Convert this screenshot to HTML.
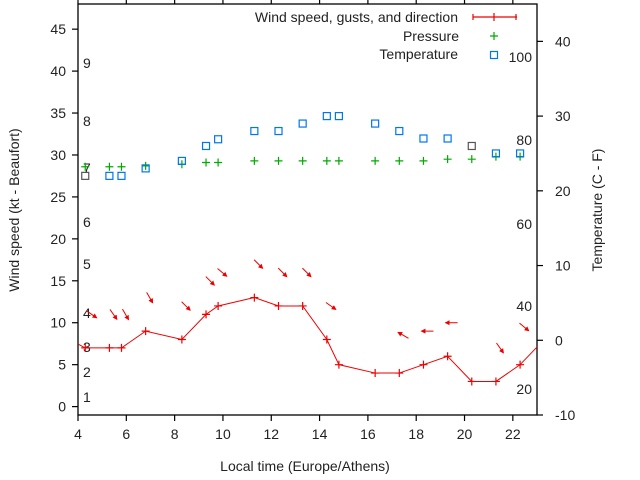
<!DOCTYPE html>
<html><head><meta charset="utf-8"><style>
body{margin:0;background:#fff}
svg{display:block;font-family:"Liberation Sans",sans-serif}
text{font-size:14px;fill:#222}
</style></head><body>
<svg id="c" width="640" height="480">
<defs><clipPath id="clip"><rect x="78" y="4" width="459" height="411"/></clipPath>
<marker id="ah" markerWidth="5" markerHeight="5" refX="4" refY="2.5" orient="auto"><path d="M0,0L5,2.5L0,5z" fill="#e00"/></marker></defs>
</svg>
<script>
const hours=[4.3,5.3,5.8,6.8,8.3,9.3,9.8,11.3,12.3,13.3,14.3,14.8,16.3,17.3,18.3,19.3,20.3,21.3,22.3];
const wind=[7,7,7,9,8,11,12,13,12,12,8,5,4,4,5,6,3,3,5];
const pressure=[28.6,28.6,28.6,28.7,28.9,29.1,29.1,29.3,29.3,29.3,29.3,29.3,29.3,29.3,29.3,29.5,29.5,29.8,29.8];
const temp=[22,22,22,23,24,26,26.9,28,28,29,30,30,29,28,27,27,26,25,25];
const arrowHours=[4.4,5.3,5.8,6.8,8.3,9.3,9.8,11.3,12.3,13.3,14.3,17.3,18.3,19.3,21.3,22.3];
const arrowKt=[11,11,11,13,12,15,16,17,16,16,12,8.5,9,10,7,9.5];
const arrowDir=[35,55,60,60,45,45,40,45,45,45,35,210,180,180,55,40];
const xTicks=[4,6,8,10,12,14,16,18,20,22];
const yTicks=[0,5,10,15,20,25,30,35,40,45];
const y2Ticks=[-10,0,10,20,30,40];
const bft=[[1,397],[2,372],[3,347],[4,313],[5,264],[6,222],[7,168],[8,121],[9,63]];
const fahr=[[100,57],[80,140],[60,224],[40,306],[20,389]];
const L=78,R=537,T=4,B=415;
const X=h=>L+(h-4)/(23-4)*(R-L);
const Y=v=>B-(v+1)/(48+1)*(B-T);
const Y2=v=>B-(v+10)/55*(B-T);
const svg=document.getElementById('c');const NS='http://www.w3.org/2000/svg';
function mk(t,a,p){const e=document.createElementNS(NS,t);for(const k in a)e.setAttribute(k,a[k]);(p||svg).appendChild(e);return e;}
function tx(x,y,s,anchor,p){const e=mk('text',{x:x,y:y,'text-anchor':anchor||'start'},p);e.textContent=s;return e;}
const frame=mk('rect',{x:L,y:T,width:R-L,height:B-T,fill:'none',stroke:'#000','stroke-width':1.3});


const ax=mk('g',{stroke:'#000','stroke-width':1.2});


xTicks.forEach(v=>{mk('line',{x1:X(v),x2:X(v),y1:B,y2:B+6},ax);mk('line',{x1:X(v),x2:X(v),y1:T,y2:T-6},ax);
 const t=tx(X(v),B+24,v,'middle');});
yTicks.forEach(v=>{mk('line',{x1:L,x2:L-6,y1:Y(v),y2:Y(v)},ax);
 const t=tx(L-12,Y(v)+5,v,'end');});
y2Ticks.forEach(v=>{mk('line',{x1:R,x2:R+6,y1:Y2(v),y2:Y2(v)},ax);
 const t=tx(R+18,Y2(v)+5,v,'start');});
bft.forEach(b=>{const t=tx(83,b[1]+5,b[0]);});
fahr.forEach(b=>{const t=tx(532,b[1]+5,b[0],'end');});
const g=mk('g',{'clip-path':'url(#clip)'});
const pts=[[3.3,8.5]].concat(hours.map((h,i)=>[h,wind[i]])).concat([[23.3,8]]);
const wl=mk('polyline',{points:pts.map(p=>X(p[0])+','+Y(p[1])).join(' '),fill:'none',stroke:'#e00','stroke-width':1},g);


function plus(x,y,c,p){const e=mk('path',{d:`M${x-4},${y}h8M${x},${y-4}v8`,stroke:c,'stroke-width':1.2},p);return e;}
hours.forEach((h,i)=>{const e=plus(X(h),Y(wind[i]),'#e00',g);});
hours.forEach((h,i)=>{const e=plus(X(h),Y(pressure[i]),'#0a0',g);});
hours.forEach((h,i)=>{const e=mk('rect',{x:X(h)-3.5,y:Y2(temp[i])-3.5,width:7,height:7,fill:'none',stroke:(i==0||i==16)?'#555':'#07e','stroke-width':1.2},g);});
arrowHours.forEach((h,i)=>{const cx=X(h)+4,cy=Y(arrowKt[i]),a=arrowDir[i]*Math.PI/180,l=6;
 const e=mk('line',{x1:cx-l*Math.cos(a),y1:cy-l*Math.sin(a),x2:cx+l*Math.cos(a),y2:cy+l*Math.sin(a),stroke:'#e00','stroke-width':1,'marker-end':'url(#ah)'},g);
 });
const lg=mk('g',{});


tx(458,22,'Wind speed, gusts, and direction','end',lg);
tx(459,41,'Pressure','end',lg);
tx(458,59,'Temperature','end',lg);
mk('path',{d:'M473,17h44M473,14v6M494,13v8M516,14v6',stroke:'#e00','stroke-width':1.2},lg);
plus(494,36,'#0a0',lg);
mk('rect',{x:490.5,y:51.5,width:7,height:7,fill:'none',stroke:'#07e','stroke-width':1.2},lg);
const xl=tx(305,471,'Local time (Europe/Athens)','middle');
const yl=tx(0,0,'Wind speed (kt - Beaufort)','middle');yl.setAttribute('transform','translate(19,210) rotate(-90)');


const y2l=tx(0,0,'Temperature (C - F)','middle');y2l.setAttribute('transform','translate(602,210) rotate(-90)');


</script>
</body></html>
